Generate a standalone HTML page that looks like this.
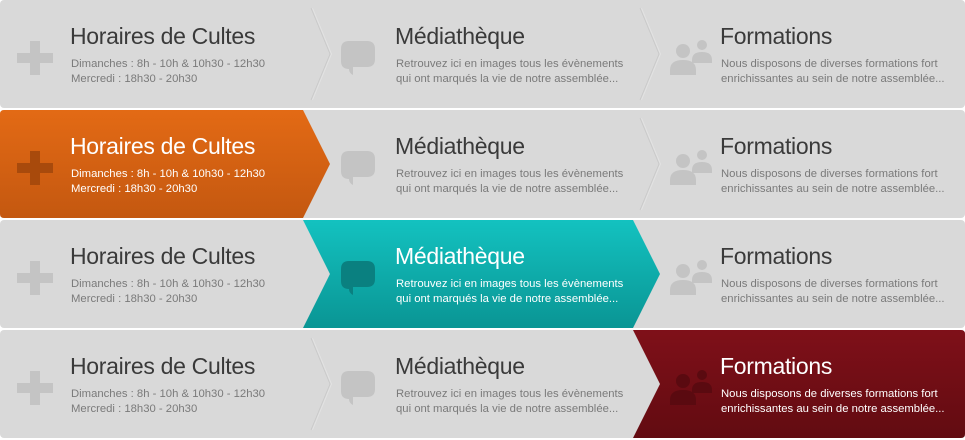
<!DOCTYPE html>
<html><head><meta charset="utf-8"><style>
body{margin:0;width:965px;height:440px;background:#fff;overflow:hidden;position:relative;font-family:"Liberation Sans",sans-serif}
.row{position:absolute;left:0;width:965px;height:108px;background:#d9d9d9;border-radius:4px}
svg.bg{position:absolute;left:0;top:0}
.cell{position:absolute;top:0;height:108px}
.t{position:absolute;top:23px;font-size:23px;color:#3a3a3a;white-space:nowrap;letter-spacing:-0.3px}
.s{position:absolute;top:57px;font-size:11.3px;line-height:14.5px;color:#7a7a7a;white-space:nowrap}
.on .t,.on .s{color:#fff}
.ic{position:absolute}
</style></head><body>
<svg width="0" height="0" style="position:absolute"><defs>
<linearGradient id="go" x1="0" y1="0" x2="0" y2="1"><stop offset="0" stop-color="#e36a15"/><stop offset="1" stop-color="#c45810"/></linearGradient>
<linearGradient id="gt" x1="0" y1="0" x2="0" y2="1"><stop offset="0" stop-color="#13c2c0"/><stop offset="1" stop-color="#0a9594"/></linearGradient>
<linearGradient id="gr" x1="0" y1="0" x2="0" y2="1"><stop offset="0" stop-color="#7f1019"/><stop offset="1" stop-color="#620b11"/></linearGradient>
</defs></svg>
<div id="root"></div>
<script>
const rowTops=[0,110,220,330];
const active=[-1,0,1,2];
const titles=["Horaires de Cultes","Médiathèque","Formations"];
const lines=[["Dimanches : 8h - 10h &amp; 10h30 - 12h30","Mercredi : 18h30 - 20h30"],["Retrouvez ici en images tous les évènements","qui ont marqués la vie de notre assemblée..."],["Nous disposons de diverses formations fort","enrichissantes au sein de notre assemblée..."]];
const xs=[70,395,720];
const names=["horaires","mediatheque","formations"];
const root=document.getElementById('root');
rowTops.forEach((T,r)=>{
  const row=document.createElement('div');
  row.className='row';row.style.top=T+'px';
  
  
  const H=108,M=H/2,a=active[r];
  let s='<svg class="bg" width="965" height="108">';
  if(a!==0) s+='<polyline points="311,8 330,'+M+' 311,100" fill="none" stroke="#c8c8c8" stroke-width="0.8"/><polyline points="312.5,8 331.5,'+M+' 312.5,100" fill="none" stroke="#e4e4e4" stroke-width="0.8"/>';
  if(a!==1&&a!==2) s+='<polyline points="640,8 659,'+M+' 640,100" fill="none" stroke="#c8c8c8" stroke-width="0.8"/><polyline points="641.5,8 660.5,'+M+' 641.5,100" fill="none" stroke="#e4e4e4" stroke-width="0.8"/>';
  if(a===0) s+='<path d="M4,0 L303,0 L330,'+M+' L303,'+H+' L4,'+H+' Q0,'+H+' 0,'+(H-4)+' L0,4 Q0,0 4,0Z" fill="url(#go)"/>';
  if(a===1) s+='<polygon points="303,0 633,0 660,'+M+' 633,'+H+' 303,'+H+' 330,'+M+'" fill="url(#gt)"/>';
  if(a===2) s+='<path d="M633,0 L961,0 Q965,0 965,4 L965,'+(H-4)+' Q965,'+H+' 961,'+H+' L633,'+H+' L660,'+M+'Z" fill="url(#gr)"/>';
  s+='</svg>';
  row.innerHTML=s;
  for(let c=0;c<3;c++){
    const cell=document.createElement('div');
    cell.className='cell'+(a===c?' on':'');
    cell.style.left=(c*320)+'px';cell.style.width='320px';
    
    
    const on=a===c;
    const ic=on?(c===0?'#a84a0c':c===1?'#0a8080':'#5a0a10'):'#c4c4c4';
    let icon='';
    if(c===0) icon='<svg class="ic" style="left:17px;top:41px" width="36" height="34"><rect x="0" y="12" width="36" height="10" fill="'+ic+'"/><rect x="13" y="0" width="10" height="34" fill="'+ic+'"/></svg>';
    if(c===1) icon='<svg class="ic" style="left:21px;top:41px" width="34" height="36"><path d="M8,0 H26 Q34,0 34,8 V18 Q34,26 26,26 H12 V34 Q8,32 8,28 Q0,28 0,20 V8 Q0,0 8,0Z" fill="'+ic+'"/></svg>';
    if(c===2) icon='<svg class="ic" style="left:30px;top:40px" width="44" height="36"><circle cx="32" cy="5" r="5" fill="'+ic+'"/><path d="M22,20 Q22,12 32,12 Q42,12 42,20 V23 H22Z" fill="'+ic+'"/><circle cx="13" cy="11" r="7" fill="'+ic+'"/><path d="M0,30 Q0,20 13,20 Q26,20 26,30 V35 H0Z" fill="'+ic+'"/></svg>';
    cell.innerHTML=icon+'<div class="t" style="left:'+(xs[c]-c*320)+'px">'+titles[c]+'</div><div class="s" style="left:'+(xs[c]-c*320+1)+'px">'+lines[c][0]+'<br>'+lines[c][1]+'</div>';
    cell.querySelector('.t');
    cell.querySelector('.t');
    cell.querySelector('.s');
    cell.querySelector('.s');
    cell.querySelector('.ic');
    cell.querySelector('.ic');
    row.appendChild(cell);
  }
  root.appendChild(row);
});
</script>
</body></html>
